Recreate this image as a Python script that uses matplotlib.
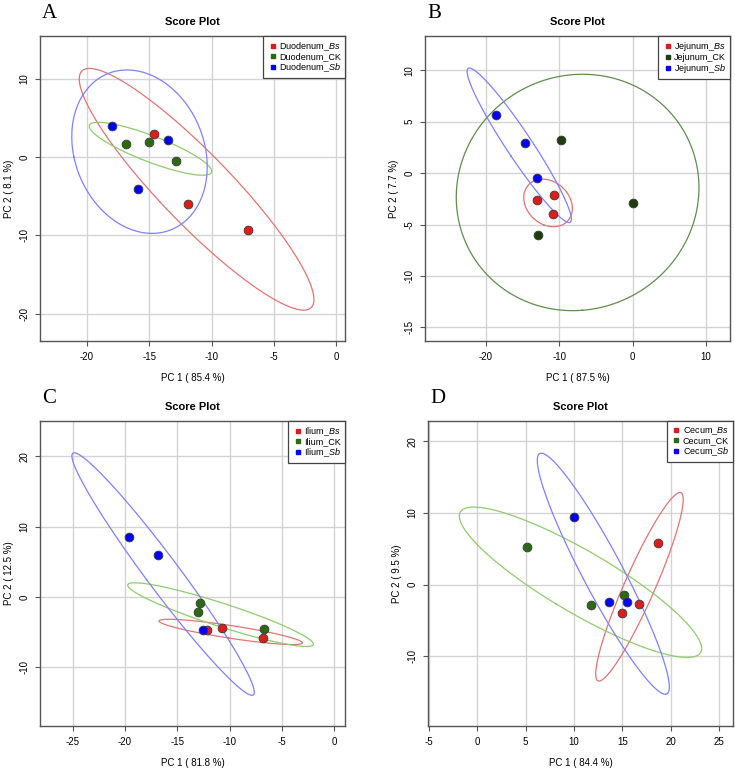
import numpy as np
import matplotlib
matplotlib.use("Agg")
import matplotlib.pyplot as plt

plt.rcParams["font.family"] = ["Liberation Sans", "DejaVu Sans"]
plt.rcParams["mathtext.fontset"] = "custom"
plt.rcParams["mathtext.it"] = "Liberation Sans:italic"
plt.rcParams["mathtext.rm"] = "Liberation Sans"
plt.rcParams["axes.unicode_minus"] = False

# PCA scores (PC1, PC2) for each group
# A: Duodenum
duo_bs_x = [-14.63, -11.91, -7.05]
duo_bs_y = [2.94, -5.98, -9.26]
duo_ck_x = [-16.82, -15.03, -12.82]
duo_ck_y = [1.75, 2.00, -0.51]
duo_sb_x = [-17.94, -13.51, -15.86]
duo_sb_y = [4.05, 2.18, -4.10]

# B: Jejunum
jej_bs_x = [-13.09, -10.68, -10.82]
jej_bs_y = [-2.60, -2.14, -3.96]
jej_ck_x = [-9.73, 0.09, -12.86]
jej_ck_y = [3.25, -2.92, -5.97]
jej_sb_x = [-18.68, -14.64, -13.05]
jej_sb_y = [5.68, 2.89, -0.45]

# C: Ilium
ili_bs_x = [-12.20, -10.70, -6.78]
ili_bs_y = [-4.75, -4.37, -5.79]
ili_ck_x = [-12.87, -13.06, -6.69]
ili_ck_y = [-0.85, -2.18, -4.51]
ili_sb_x = [-19.65, -16.85, -12.58]
ili_sb_y = [8.50, 6.03, -4.75]

# D: Cecum
cec_bs_x = [18.62, 14.93, 16.72]
cec_bs_y = [5.87, -4.01, -2.75]
cec_ck_x = [5.10, 11.76, 15.14]
cec_ck_y = [5.22, -2.79, -1.44]
cec_sb_x = [10.00, 13.59, 15.48]
cec_sb_y = [9.46, -2.47, -2.42]

pc1_var = [85.4, 87.5, 81.8, 84.4]
pc2_var = [8.1, 7.7, 12.5, 9.5]
tissues = ["Duodenum", "Jejunum", "Ilium", "Cecum"]
letters = ["A", "B", "C", "D"]

RED, BLUE = "#dd1c1c", "#0000ff"
GREEN_PT = ["#2c6a12", "#1d3d0c", "#2c6a12", "#2c6a12"]
RED_EL, BLUE_EL = "#e07474", "#8080ff"
GREEN_EL = ["#8fcc6c", "#5d8f4d", "#8fcc6c", "#8fcc6c"]

panels = [
    dict(groups=[(duo_bs_x, duo_bs_y), (duo_ck_x, duo_ck_y), (duo_sb_x, duo_sb_y)],
         xlim=(-23.74, 0.69), ylim=(-23.5, 15.5),
         xt=[-20, -15, -10, -5, 0], yt=[-20, -10, 0, 10],
         rect=[40, 36, 305, 305]),
    dict(groups=[(jej_bs_x, jej_bs_y), (jej_ck_x, jej_ck_y), (jej_sb_x, jej_sb_y)],
         xlim=(-28.3, 13.27), ylim=(-16.33, 13.34),
         xt=[-20, -10, 0, 10], yt=[-15, -10, -5, 0, 5, 10],
         rect=[425, 36, 305, 305]),
    dict(groups=[(ili_bs_x, ili_bs_y), (ili_ck_x, ili_ck_y), (ili_sb_x, ili_sb_y)],
         xlim=(-28.12, 1.02), ylim=(-18.35, 25.03),
         xt=[-25, -20, -15, -10, -5, 0], yt=[-10, 0, 10, 20],
         rect=[40, 421, 305, 305]),
    dict(groups=[(cec_bs_x, cec_bs_y), (cec_ck_x, cec_ck_y), (cec_sb_x, cec_sb_y)],
         xlim=(-5.07, 26.41), ylim=(-19.73, 22.84),
         xt=[-5, 0, 5, 10, 15, 20, 25], yt=[-10, 0, 10, 20],
         rect=[428, 421, 305, 305]),
]

W, H = 735, 770
T95 = np.sqrt(-2 * np.log(0.05))  # sqrt(qchisq(0.95, 2))


def conf_ellipse(x, y, n=200):
    pts = np.vstack([x, y])
    mu = pts.mean(axis=1)
    cov = np.cov(pts)
    vals, vecs = np.linalg.eigh(cov)
    t = np.linspace(0, 2 * np.pi, n)
    circ = np.vstack([np.cos(t), np.sin(t)])
    e = vecs @ (np.sqrt(np.maximum(vals, 0))[:, None] * circ) * T95
    return mu[0] + e[0], mu[1] + e[1]


fig = plt.figure(figsize=(W / 100, H / 100), dpi=100)

for i, p in enumerate(panels):
    l, t, w, h = p["rect"]
    ax = fig.add_axes([l / W, 1 - (t + h) / H, w / W, h / H])
    ax.set_xlim(*p["xlim"])
    ax.set_ylim(*p["ylim"])
    ax.set_xticks(p["xt"])
    ax.set_yticks(p["yt"])
    ax.grid(True, color="#d4d4d4", linewidth=1.0)
    ax.set_axisbelow(True)
    for s in ax.spines.values():
        s.set_color("#555555")
        s.set_linewidth(1.0)
    ax.tick_params(direction="out", length=3.6, width=0.8, color="#555555",
                   labelsize=7, pad=4)
    for lab in ax.get_yticklabels():
        lab.set_rotation(90)
        lab.set_va("center")

    pt_cols = [RED, GREEN_PT[i], BLUE]
    el_cols = [RED_EL, GREEN_EL[i], BLUE_EL]
    for (gx, gy), ec in zip(p["groups"], el_cols):
        ex, ey = conf_ellipse(gx, gy)
        ax.plot(ex, ey, color=ec, linewidth=0.9, zorder=2)
    for (gx, gy), pc in zip(p["groups"], pt_cols):
        ax.scatter(gx, gy, s=40, color=pc, edgecolor="#3a3a3a",
                   linewidth=0.6, zorder=3)

    name = tissues[i]
    labels = [name + r"_$\it{Bs}$", name + "_CK", name + r"_$\it{Sb}$"]
    handles = [plt.Line2D([], [], marker="s", linestyle="none", markersize=3.2,
                          color=c) for c in pt_cols]
    leg = ax.legend(handles, labels, loc="upper right", borderaxespad=0,
                    fontsize=6.5, fancybox=False, framealpha=1,
                    handletextpad=0.1, handlelength=1.2, labelspacing=0.0,
                    borderpad=0.45)
    leg.get_frame().set_edgecolor("#444444")
    leg.get_frame().set_linewidth(0.9)

    ax.set_title("Score Plot", fontsize=8, fontweight="bold", pad=8)
    ax.set_xlabel(f"PC 1 ( {pc1_var[i]} %)", fontsize=7, labelpad=8)
    ax.set_ylabel(f"PC 2 ( {pc2_var[i]} %)", fontsize=7, labelpad=4)

    fig.text((l + 2) / W, 1 - (t - 18) / H, letters[i], fontsize=15,
             family="Liberation Serif", va="baseline", ha="left")

fig.savefig("out.png", dpi=100)
